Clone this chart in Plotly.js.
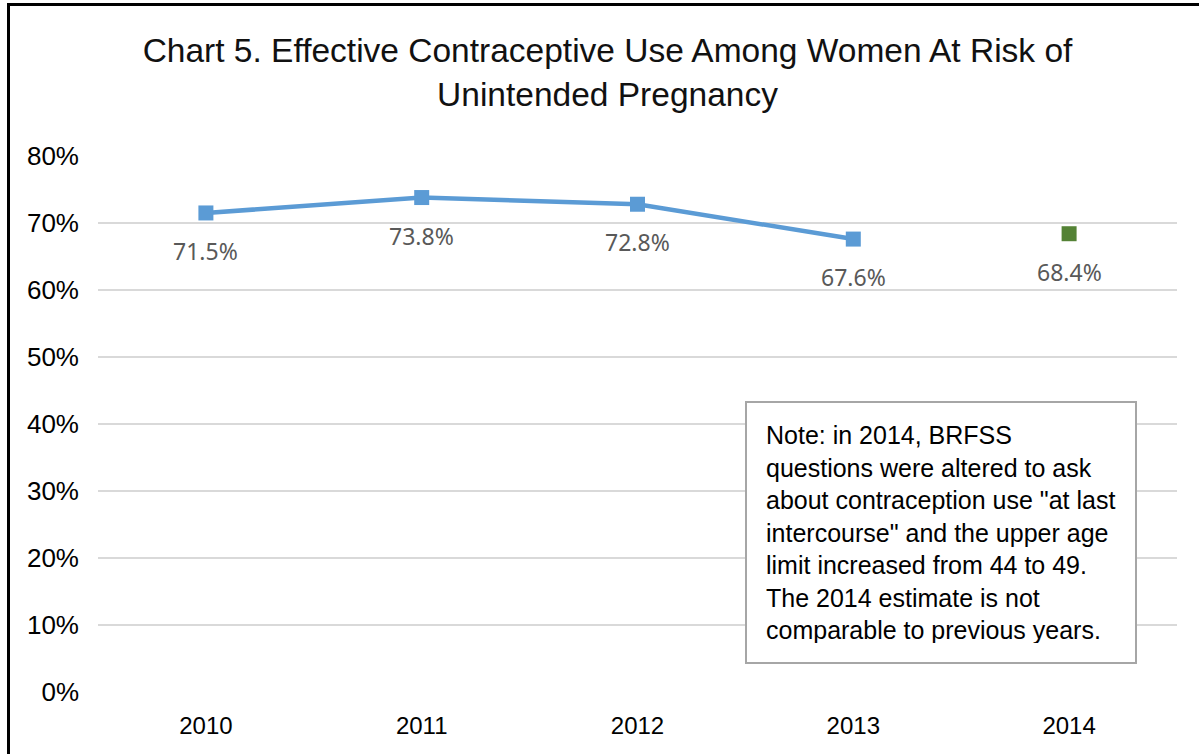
<!DOCTYPE html>
<html>
<head>
<meta charset="utf-8">
<script src="https://cdn.plot.ly/plotly-3.0.1.min.js"></script>
<style>
html,body{margin:0;padding:0;background:#fff;}
#chart{width:1199px;height:754px;}
</style>
</head>
<body>
<div id="chart"></div>
<script>
// Data
const years = ['2010', '2011', '2012', '2013'];
const values = [71.5, 73.8, 72.8, 67.6];
const years2014 = ['2014'];
const values2014 = [68.4];
const allYears = ['2010', '2011', '2012', '2013', '2014'];
const yTickVals = [0, 10, 20, 30, 40, 50, 60, 70, 80];
const yTickText = ['0%', '10%', '20%', '30%', '40%', '50%', '60%', '70%', '80%'];
const titleText = 'Chart 5. Effective Contraceptive Use Among Women At Risk of<br>Unintended Pregnancy';
const noteText = 'Note: in 2014, BRFSS<br>questions were altered to ask<br>about contraception use "at last<br>intercourse" and the upper age<br>limit increased from 44 to 49.<br>The 2014 estimate is not<br>comparable to previous years.';

const W = 1199, H = 754;
const mL = 98, mR = 22, mT = 156, mB = 62;
const pw = W - mL - mR, ph = H - mT - mB;
const px = x => (x - mL) / pw;
const py = y => (H - mB - y) / ph;

const sans = '"Liberation Sans", Arial, sans-serif';
const labelFont = { family: '"Noto Sans", "Open Sans", sans-serif', size: 23, color: '#595959' };

const traces = [
  {
    x: years, y: values, type: 'scatter', mode: 'lines+markers',
    line: { color: '#5B9BD5', width: 4.5 },
    marker: { symbol: 'square', size: 15, color: '#5B9BD5' },
    hoverinfo: 'skip', showlegend: false
  },
  {
    x: years2014, y: values2014, type: 'scatter', mode: 'markers',
    marker: { symbol: 'square', size: 15, color: '#548235' },
    hoverinfo: 'skip', showlegend: false
  }
];

const annotations = [];
years.forEach((yr, i) => annotations.push({
  x: allYears.indexOf(yr), y: values[i], xref: 'x', yref: 'y', text: values[i].toFixed(1) + '%',
  showarrow: false, yshift: -38, font: labelFont
}));
years2014.forEach((yr, i) => annotations.push({
  x: allYears.indexOf(yr), y: values2014[i], xref: 'x', yref: 'y', text: values2014[i].toFixed(1) + '%',
  showarrow: false, yshift: -38, font: labelFont
}));
annotations.push({
  xref: 'paper', yref: 'paper', x: px(745), y: py(401), xanchor: 'left', yanchor: 'top',
  text: noteText, showarrow: false, align: 'left', valign: 'middle',
  width: 350, height: 221, borderpad: 19, borderwidth: 2, bordercolor: '#A6A6A6',
  bgcolor: '#ffffff', font: { family: sans, size: 25, color: '#000000' }
});

const layout = {
  width: W, height: H,
  margin: { l: mL, r: mR, t: mT, b: mB },
  paper_bgcolor: '#ffffff', plot_bgcolor: '#ffffff',
  title: {
    text: titleText, xref: 'container', yref: 'container',
    x: 607.5 / W, xanchor: 'center', y: 1 - 62 / H, yanchor: 'top',
    font: { family: sans, size: 33.5, color: '#111111' }
  },
  xaxis: {
    type: 'category', categoryarray: allYears, categoryorder: 'array',
    range: [-0.5, 4.5], showgrid: false, zeroline: false, showline: false,
    ticks: '', tickfont: { family: sans, size: 24, color: '#000000' }, ticklabelstandoff: 17
  },
  yaxis: {
    range: [0, 80], tickvals: yTickVals, ticktext: yTickText,
    showgrid: true, gridcolor: '#D9D9D9', gridwidth: 1.5, zeroline: false, showline: false,
    ticks: '', tickfont: { family: sans, size: 26, color: '#000000' }, ticklabelstandoff: 18
  },
  annotations: annotations,
  shapes: [
    { type: 'line', xref: 'paper', yref: 'paper', x0: px(8.5), x1: px(8.5), y0: py(4), y1: py(800), line: { color: '#000', width: 3 } },
    { type: 'line', xref: 'paper', yref: 'paper', x0: px(7), x1: px(1250), y0: py(4.5), y1: py(4.5), line: { color: '#000', width: 3 } }
  ]
};

Plotly.newPlot('chart', traces, layout, { displayModeBar: false, staticPlot: true });
</script>
</body>
</html>
